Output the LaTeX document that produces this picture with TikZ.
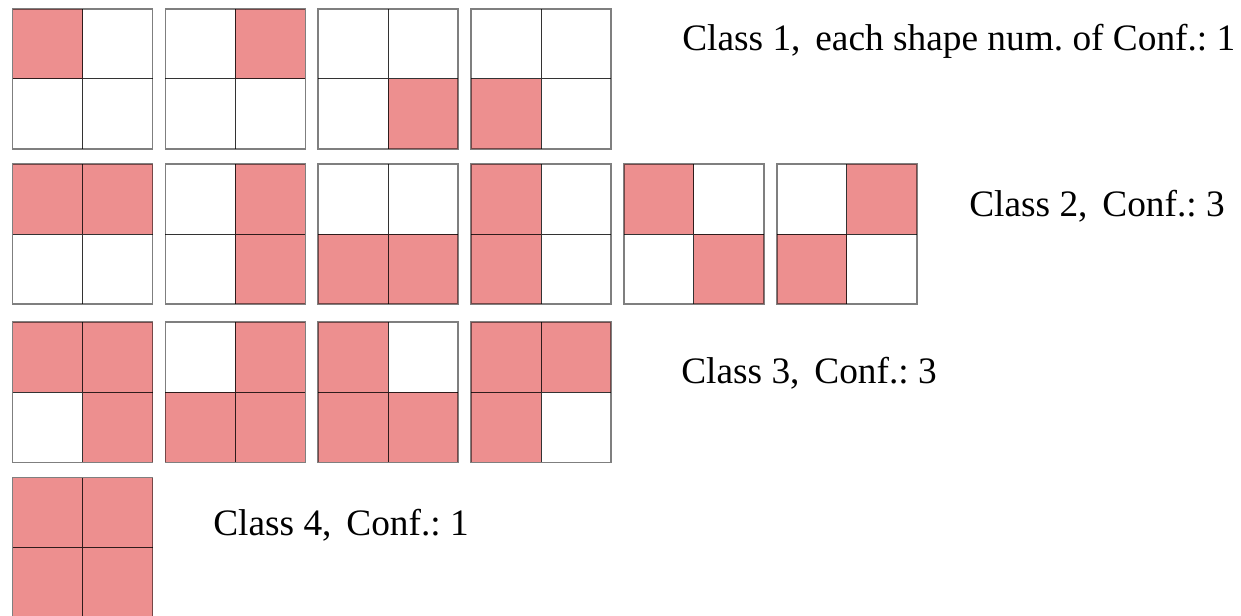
\documentclass[tikz,border=0pt]{standalone}
\usepackage{fontspec}
\setmainfont{Liberation Serif}
\frenchspacing
\definecolor{cellpink}{RGB}{237,143,143}
\tikzset{
  pinkcell/.style={fill=cellpink},
  innerline/.style={draw=black, draw opacity=0.8, line width=0.75pt},
  outerline/.style={draw=black, draw opacity=0.5, line width=1.2pt},
  label/.style={anchor=base west, inner sep=0pt, font=\fontsize{28}{34}\selectfont}
}
\newcommand\cellgrid[6]{%
  \begin{scope}[shift={(#1,#2)}]
    \ifnum#3=1 \fill[pinkcell] (0,0) rectangle (70,70);\fi
    \ifnum#4=1 \fill[pinkcell] (70,0) rectangle (140,70);\fi
    \ifnum#5=1 \fill[pinkcell] (0,70) rectangle (70,140);\fi
    \ifnum#6=1 \fill[pinkcell] (70,70) rectangle (140,140);\fi
    \draw[innerline] (70,0) -- (70,140) (0,70) -- (140,70);
    \draw[outerline] (0,0) rectangle (140,140);
  \end{scope}}
\begin{document}
\begin{tikzpicture}[x=0.75pt, y=-0.75pt]
\useasboundingbox (0,0) rectangle (1241,616);
% row 1
\cellgrid{12.5}{9}{1}{0}{0}{0}
\cellgrid{165.4}{9}{0}{1}{0}{0}
\cellgrid{318.2}{9}{0}{0}{0}{1}
\cellgrid{471.1}{9}{0}{0}{1}{0}
% row 2
\cellgrid{12.5}{164.3}{1}{1}{0}{0}
\cellgrid{165.4}{164.3}{0}{1}{0}{1}
\cellgrid{318.2}{164.3}{0}{0}{1}{1}
\cellgrid{471.1}{164.3}{1}{0}{1}{0}
\cellgrid{623.9}{164.3}{1}{0}{0}{1}
\cellgrid{776.7}{164.3}{0}{1}{1}{0}
% row 3
\cellgrid{12.5}{322.3}{1}{1}{0}{1}
\cellgrid{165.4}{322.3}{0}{1}{1}{1}
\cellgrid{318.2}{322.3}{1}{0}{1}{1}
\cellgrid{471.1}{322.3}{1}{1}{1}{0}
% row 4
\cellgrid{12.5}{477.5}{1}{1}{1}{1}
% labels
\node[label] (c1) at (682,51) {Class 1,\hspace{0.4em}each shape num. of Conf.: 1};
\node[label] (c2) at (969,216.7) {Class 2,\hspace{0.4em}Conf.: 3};
\node[label] (c3) at (681,383.3) {Class 3,\hspace{0.4em}Conf.: 3};
\node[label] (c4) at (213,535) {Class 4,\hspace{0.4em}Conf.: 1};
\end{tikzpicture}
\end{document}
